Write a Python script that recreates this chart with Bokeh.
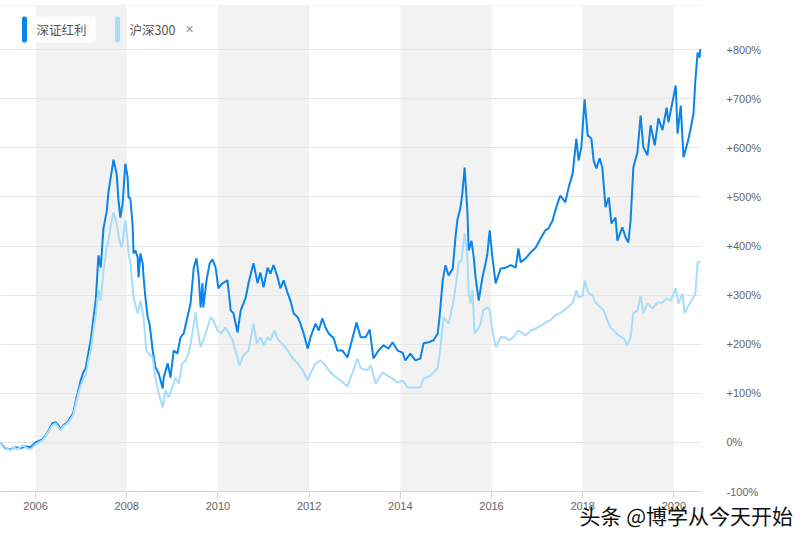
from bokeh.plotting import figure
from bokeh.models import (Range1d, FixedTicker, CustomJSTickFormatter, BoxAnnotation,
                          Label, Span, Title)
from bokeh.embed import file_html
from bokeh.resources import INLINE

# ---------------- data (decimal year, cumulative return %) ----------------
szhl_t = [2005.23, 2005.34, 2005.45, 2005.56, 2005.67, 2005.78, 2005.89, 2006.00, 2006.15, 2006.22,
          2006.28, 2006.37, 2006.44, 2006.50, 2006.55, 2006.61, 2006.70, 2006.77, 2006.83, 2006.90,
          2006.94, 2006.99, 2007.05, 2007.10, 2007.16, 2007.21, 2007.27, 2007.32, 2007.36, 2007.38,
          2007.43, 2007.49, 2007.56, 2007.60, 2007.67, 2007.71, 2007.78, 2007.82, 2007.86, 2007.91,
          2007.97, 2008.02, 2008.04, 2008.08, 2008.13, 2008.15, 2008.19, 2008.24, 2008.26, 2008.30,
          2008.35, 2008.37, 2008.41, 2008.46, 2008.50, 2008.57, 2008.63, 2008.70, 2008.79, 2008.81,
          2008.90, 2008.96, 2009.03, 2009.11, 2009.18, 2009.25, 2009.33, 2009.40, 2009.47, 2009.53,
          2009.58, 2009.62, 2009.66, 2009.68, 2009.75, 2009.82, 2009.88, 2009.95, 2010.01, 2010.10,
          2010.21, 2010.28, 2010.34, 2010.43, 2010.50, 2010.61, 2010.67, 2010.78, 2010.87, 2010.93,
          2011.00, 2011.09, 2011.15, 2011.22, 2011.31, 2011.37, 2011.44, 2011.53, 2011.59, 2011.66,
          2011.75, 2011.81, 2011.88, 2011.97, 2012.03, 2012.14, 2012.21, 2012.29, 2012.36, 2012.43,
          2012.54, 2012.62, 2012.73, 2012.84, 2012.95, 2013.04, 2013.13, 2013.24, 2013.33, 2013.41,
          2013.52, 2013.63, 2013.74, 2013.83, 2013.94, 2014.05, 2014.11, 2014.22, 2014.33, 2014.44,
          2014.51, 2014.62, 2014.73, 2014.82, 2014.86, 2014.93, 2014.99, 2015.06, 2015.15, 2015.21,
          2015.25, 2015.32, 2015.36, 2015.41, 2015.47, 2015.50, 2015.56, 2015.61, 2015.65, 2015.72,
          2015.80, 2015.87, 2015.91, 2015.96, 2016.02, 2016.09, 2016.20, 2016.31, 2016.42, 2016.53,
          2016.59, 2016.64, 2016.75, 2016.86, 2016.97, 2017.08, 2017.18, 2017.25, 2017.34, 2017.40,
          2017.47, 2017.51, 2017.62, 2017.69, 2017.78, 2017.86, 2017.91, 2017.97, 2018.04, 2018.11,
          2018.19, 2018.24, 2018.30, 2018.37, 2018.43, 2018.50, 2018.57, 2018.63, 2018.72, 2018.76,
          2018.87, 2018.94, 2019.00, 2019.05, 2019.11, 2019.20, 2019.27, 2019.33, 2019.42, 2019.49,
          2019.58, 2019.66, 2019.75, 2019.84, 2019.88, 2020.04, 2020.08, 2020.15, 2020.21, 2020.30,
          2020.36, 2020.43, 2020.47, 2020.52, 2020.56, 2020.58]
szhl_v = [0, -12, -14, -10, -12, -8, -10, 0, 6, 14,
          24, 39, 41, 35, 26, 35, 41, 51, 61, 92,
          106, 126, 143, 151, 183, 208, 253, 289, 350, 381,
          356, 436, 470, 511, 552, 576, 546, 493, 458, 487,
          568, 540, 499, 497, 442, 385, 391, 377, 336, 385,
          365, 336, 295, 255, 242, 187, 153, 141, 110, 132,
          161, 132, 187, 181, 214, 222, 255, 283, 356, 375,
          336, 275, 324, 275, 330, 365, 373, 356, 314, 324,
          330, 269, 263, 224, 269, 295, 324, 365, 324, 346,
          316, 356, 344, 361, 336, 314, 330, 304, 289, 263,
          255, 242, 222, 191, 214, 242, 228, 253, 234, 222,
          212, 187, 187, 173, 212, 244, 214, 214, 230, 171,
          187, 198, 191, 204, 187, 183, 167, 181, 167, 171,
          202, 204, 208, 222, 255, 330, 361, 340, 354, 418,
          452, 479, 507, 560, 473, 391, 411, 377, 336, 289,
          336, 365, 385, 432, 377, 324, 354, 356, 361, 356,
          395, 367, 375, 387, 397, 416, 432, 436, 452, 473,
          493, 503, 489, 519, 548, 619, 574, 601, 699, 625,
          619, 574, 558, 579, 560, 479, 499, 446, 458, 411,
          438, 418, 407, 452, 560, 591, 666, 601, 585, 646,
          605, 660, 636, 682, 652, 727, 629, 686, 581, 611,
          636, 670, 737, 794, 784, 801]

hs300_t = [2005.23, 2005.34, 2005.45, 2005.52, 2005.61, 2005.72, 2005.82, 2005.89, 2006.00, 2006.15,
           2006.22, 2006.28, 2006.37, 2006.44, 2006.50, 2006.55, 2006.61, 2006.70, 2006.77, 2006.83,
           2006.90, 2006.94, 2006.99, 2007.05, 2007.10, 2007.16, 2007.21, 2007.27, 2007.32, 2007.38,
           2007.43, 2007.49, 2007.56, 2007.60, 2007.65, 2007.71, 2007.78, 2007.84, 2007.89, 2007.93,
           2007.97, 2008.02, 2008.04, 2008.08, 2008.15, 2008.24, 2008.30, 2008.37, 2008.43, 2008.48,
           2008.57, 2008.63, 2008.70, 2008.79, 2008.85, 2008.92, 2009.00, 2009.07, 2009.14, 2009.22,
           2009.29, 2009.36, 2009.44, 2009.51, 2009.55, 2009.62, 2009.68, 2009.75, 2009.84, 2009.90,
           2009.99, 2010.08, 2010.15, 2010.21, 2010.32, 2010.43, 2010.47, 2010.56, 2010.67, 2010.78,
           2010.85, 2010.93, 2011.00, 2011.09, 2011.15, 2011.24, 2011.33, 2011.44, 2011.53, 2011.64,
           2011.75, 2011.86, 2011.97, 2012.03, 2012.14, 2012.25, 2012.32, 2012.43, 2012.54, 2012.69,
           2012.84, 2012.97, 2013.06, 2013.13, 2013.28, 2013.35, 2013.46, 2013.61, 2013.72, 2013.83,
           2013.94, 2014.05, 2014.16, 2014.29, 2014.44, 2014.51, 2014.66, 2014.82, 2014.88, 2014.95,
           2015.06, 2015.17, 2015.28, 2015.34, 2015.41, 2015.47, 2015.50, 2015.54, 2015.58, 2015.63,
           2015.69, 2015.76, 2015.82, 2015.91, 2015.96, 2016.02, 2016.09, 2016.20, 2016.31, 2016.37,
           2016.48, 2016.59, 2016.75, 2016.86, 2016.97, 2017.08, 2017.18, 2017.29, 2017.40, 2017.51,
           2017.67, 2017.78, 2017.86, 2017.91, 2018.00, 2018.04, 2018.13, 2018.22, 2018.28, 2018.39,
           2018.46, 2018.54, 2018.61, 2018.72, 2018.79, 2018.90, 2018.98, 2019.05, 2019.11, 2019.20,
           2019.27, 2019.33, 2019.42, 2019.53, 2019.64, 2019.75, 2019.84, 2019.93, 2020.04, 2020.10,
           2020.19, 2020.23, 2020.32, 2020.41, 2020.47, 2020.52, 2020.58]
hs300_v = [0, -10, -16, -10, -14, -6, -12, -14, -4, 4,
           12, 22, 35, 39, 31, 24, 33, 39, 47, 57,
           86, 100, 116, 130, 136, 167, 187, 228, 259, 310,
           289, 350, 395, 411, 442, 469, 446, 411, 397, 422,
           452, 411, 385, 367, 295, 263, 289, 255, 187, 181,
           173, 132, 100, 71, 106, 92, 112, 132, 120, 161,
           167, 181, 222, 265, 234, 194, 208, 228, 255, 249,
           228, 222, 234, 228, 208, 173, 157, 177, 187, 242,
           202, 214, 198, 214, 208, 228, 208, 198, 187, 171,
           161, 147, 126, 141, 161, 167, 161, 147, 136, 126,
           114, 147, 171, 151, 147, 157, 120, 143, 136, 130,
           122, 126, 112, 112, 112, 130, 136, 151, 194, 255,
           242, 289, 365, 371, 426, 377, 304, 283, 310, 222,
           228, 242, 269, 275, 269, 228, 194, 214, 214, 208,
           214, 228, 218, 228, 232, 238, 244, 249, 259, 263,
           275, 285, 310, 295, 299, 330, 304, 299, 285, 275,
           269, 249, 234, 224, 218, 212, 198, 214, 263, 269,
           299, 263, 283, 273, 285, 285, 293, 289, 314, 283,
           303, 263, 279, 293, 303, 367, 367]

series_names = ["深证红利", "沪深300"]
series_colors = ["#0a84ea", "#a7dcfb"]
band_years = [(2006, 2008), (2010, 2012), (2014, 2016), (2018, 2020)]
x_ticks = [2006, 2008, 2010, 2012, 2014, 2016, 2018, 2020]
y_ticks = [-100, 0, 100, 200, 300, 400, 500, 600, 700, 800]
watermark = "头条 @博学从今天开始"

# ---------------- layout ----------------
W, H = 805, 541
FL, FT, FW, FH = 0, 5, 701, 486
X0, X1 = 2005.232, 2020.605
Y0, Y1 = -100, 890

def px2x(px):
    return X0 + (px - FL) * (X1 - X0) / FW

def py2y(py):
    return Y1 - (py - FT) * (Y1 - Y0) / FH

p = figure(width=W, height=H, output_backend="svg", toolbar_location=None, title=None,
           x_range=Range1d(X0, X1), y_range=Range1d(Y0, Y1), y_axis_location="right",
           min_border_left=FL, min_border_right=W - FL - FW, min_border_top=FT,
           min_border_bottom=H - FT - FH)
p.outline_line_color = None
p.background_fill_color = "white"
p.border_fill_color = "white"

# bands
for a, b in band_years:
    p.add_layout(BoxAnnotation(left=a, right=b, fill_color="#f2f2f2", fill_alpha=1,
                               line_color=None, level="image"))

# grids
p.xgrid.visible = False
p.ygrid.ticker = FixedTicker(ticks=y_ticks)
p.ygrid.grid_line_color = "#e6e6e6"
p.ygrid.grid_line_width = 1
p.add_layout(Span(location=Y1, dimension="width", line_color="#e6e6e6", line_width=1))

# axes
xa = p.xaxis[0]
xa.ticker = FixedTicker(ticks=x_ticks)
xa.formatter = CustomJSTickFormatter(code="return Math.round(tick).toString();")
xa.axis_line_color = "#ccd6eb"
xa.major_tick_line_color = "#ccd6eb"
xa.major_tick_out = 7
xa.major_tick_in = 0
xa.minor_tick_line_color = None
xa.major_label_text_font = "Liberation Sans"
xa.major_label_text_font_size = "11px"
xa.major_label_text_color = "#666666"
xa.major_label_standoff = 3

ya = p.yaxis[0]
ya.ticker = FixedTicker(ticks=y_ticks)
ya.formatter = CustomJSTickFormatter(code="return (tick > 0 ? '+' : '') + Math.round(tick) + '%';")
ya.axis_line_color = None
ya.major_tick_line_color = None
ya.minor_tick_line_color = None
ya.major_label_text_font = "Liberation Sans"
ya.major_label_text_font_size = "11px"
ya.major_label_text_color = "#666666"
ya.major_label_standoff = 19

# lines
p.line(szhl_t, szhl_v, line_color=series_colors[0], line_width=2)
p.line(hs300_t, hs300_v, line_color=series_colors[1], line_width=2)

# legend (custom, highcharts-like)
p.add_layout(BoxAnnotation(left=px2x(33), right=px2x(95), top=py2y(16), bottom=py2y(42),
                           fill_color="white", fill_alpha=1, line_color=None, border_radius=3,
                           level="overlay"))
bars = [(21.5, 26.5), (114.5, 119.5)]
for (l, r), c in zip(bars, series_colors):
    p.add_layout(BoxAnnotation(left=px2x(l), right=px2x(r), top=py2y(16), bottom=py2y(42),
                               fill_color=c, fill_alpha=1, line_color=None, border_radius=2,
                               level="overlay"))
for xpx, name in zip([36, 129], series_names):
    p.add_layout(Label(x=px2x(xpx), y=py2y(29), text=name, text_font="Noto Sans CJK SC",
                       text_font_size="12.5px", text_color="#555555",
                       text_baseline="middle", text_align="left", level="overlay"))
p.add_layout(Label(x=px2x(189), y=py2y(28), text="×", text_font="Liberation Sans",
                   text_font_size="14px", text_color="#888888",
                   text_baseline="middle", text_align="center", level="overlay"))

# watermark (below panel, so it is not clipped by the frame)
wm = Title(text=watermark, align="left", offset=579, standoff=-25, vertical_align="top",
           text_font="Noto Sans CJK SC", text_font_size="21px", text_font_style="normal",
           text_color="#111111")
p.add_layout(wm, "below")

open("out.html", "w").write(file_html(p, INLINE))
